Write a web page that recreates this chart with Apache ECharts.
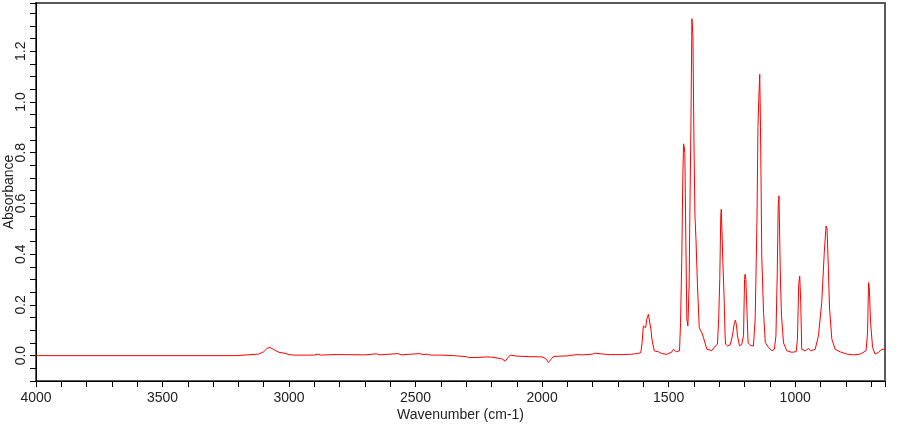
<!DOCTYPE html>
<html>
<head>
<meta charset="utf-8">
<script src="https://cdn.jsdelivr.net/npm/echarts@6/dist/echarts.min.js"></script>
<style>
html,body{margin:0;padding:0;background:#fff;}
#chart{width:900px;height:425px;}
</style>
</head>
<body>
<div id="chart"></div>
<script>
// Wavenumber (cm-1) and absorbance values
var wavenumbers = [4000,3210,3205,3120,3100,3085,3075,3060,3040,3020,3000,2980,2900,2885,2875,2830,2780,2700,2655,2640,2570,2555,2485,2470,2455,2440,2400,2350,2300,2290,2250,2220,2200,2160,2146,2135,2126,2100,2050,2000,1985,1975,1965,1955,1900,1865,1840,1800,1790,1770,1730,1700,1650,1620,1610,1605,1600,1595,1591,1586,1580,1576,1570,1566,1557,1540,1527,1507,1487,1481,1470,1457,1453,1448,1444,1441,1438,1436,1432,1428,1424,1419,1416,1412,1408,1404,1400,1396,1392,1386,1379,1369,1362,1349,1329,1316,1307,1302,1298,1294,1292,1289,1286,1281,1277,1275,1267,1257,1248,1240,1236,1232,1228,1220,1211,1204,1200,1198,1195,1190,1186,1180,1175,1165,1158,1151,1147,1144,1140,1137,1135,1132,1125,1118,1105,1092,1082,1076,1071,1067,1064,1060,1058,1054,1046,1033,1013,996,991,986,982,978,974,960,947,938,921,908,895,885,878,874,869,864,855,842,822,796,770,743,720,714,710,707,702,694,684,671,658,648,645];
var absorbance = [0,0,0.005,0.006,0.015,0.03,0.032,0.024,0.013,0.01,0.004,0.002,0.002,0.006,0.002,0.004,0.004,0.003,0.007,0.003,0.008,0.003,0.008,0.004,0.006,0.002,0.002,0.0,-0.004,-0.008,-0.007,-0.005,-0.006,-0.012,-0.022,-0.008,0.002,-0.002,-0.004,-0.005,-0.012,-0.027,-0.015,-0.003,-0.001,0.004,0.003,0.006,0.01,0.007,0.004,0.004,0.005,0.009,0.012,0.05,0.117,0.12,0.11,0.144,0.163,0.16,0.104,0.065,0.019,0.015,0.008,0.005,0.015,0.025,0.015,0.019,0.13,0.38,0.7,0.835,0.82,0.8,0.45,0.144,0.117,0.275,0.57,0.905,1.328,1.262,0.848,0.55,0.46,0.275,0.11,0.09,0.07,0.025,0.02,0.038,0.045,0.15,0.3,0.55,0.577,0.57,0.38,0.235,0.08,0.045,0.038,0.042,0.078,0.131,0.14,0.12,0.078,0.038,0.045,0.08,0.3,0.321,0.3,0.163,0.05,0.052,0.04,0.038,0.144,0.53,0.9,1.006,1.109,0.9,0.708,0.393,0.17,0.052,0.032,0.019,0.025,0.078,0.314,0.59,0.63,0.4,0.29,0.157,0.05,0.019,0.013,0.016,0.065,0.281,0.314,0.21,0.025,0.019,0.028,0.019,0.025,0.078,0.21,0.406,0.511,0.5,0.35,0.183,0.065,0.025,0.015,0.006,0.003,0.006,0.019,0.09,0.288,0.268,0.131,0.032,0.006,0.013,0.025,0.025,0.025];
var xStart = 4000;          // left end of the wavenumber axis
var xEnd = 645;             // right end of the wavenumber axis
var xLabelStep = 500;       // labelled wavenumbers
var yLabels = [0.0, 0.2, 0.4, 0.6, 0.8, 1.0, 1.2];

// offset axis (distance from 4000 cm-1) so ticks count from a multiple of the interval
var seriesData = wavenumbers.map(function (w, i) { return [xStart - w, absorbance[i]]; });

var chart = echarts.init(document.getElementById('chart'), null, {renderer: 'canvas'});
var font = 'Liberation Sans, Arial, sans-serif';
chart.setOption({
  animation: false,
  backgroundColor: '#ffffff',
  grid: {left: 36, right: 15, top: 3, bottom: 44, containLabel: false, outerBoundsMode: 'none', show: true, borderColor: '#5a5a5a', borderWidth: 2, backgroundColor: 'transparent'},
  xAxis: {
    type: 'value',
    min: 0,
    max: xStart - xEnd,
    interval: 100,
    name: 'Wavenumber (cm-1)',
    nameLocation: 'middle',
    nameGap: 27,
    nameMoveOverlap: false,
    nameTextStyle: {fontFamily: font, fontSize: 14, color: '#222'},
    axisLine: {show: true, onZero: false, lineStyle: {color: '#000', width: 1}},
    axisTick: {show: true, inside: false, length: 6, lineStyle: {color: '#000'}},
    axisLabel: {
      margin: 10, fontFamily: font, fontSize: 14, color: '#222', showMaxLabel: true, showMinLabel: true,
      formatter: function (v) {
        var w = Math.round(xStart - v);
        return (w % xLabelStep === 0) ? String(w) : '';
      }
    },
    splitLine: {show: false}
  },
  yAxis: {
    type: 'value',
    min: -0.1,
    max: 1.39,
    interval: 0.05,
    name: 'Absorbance',
    nameLocation: 'middle',
    nameGap: 20,
    nameMoveOverlap: false,
    nameTextStyle: {fontFamily: font, fontSize: 14, color: '#222'},
    axisLine: {show: true, onZero: false, lineStyle: {color: '#000', width: 1}},
    axisTick: {show: true, inside: false, length: 6, lineStyle: {color: '#000'}},
    axisLabel: {
      rotate: 90, margin: 8, fontFamily: font, fontSize: 14, color: '#222',
      formatter: function (v) {
        for (var i = 0; i < yLabels.length; i++) {
          if (Math.abs(v - yLabels[i]) < 1e-6) return yLabels[i].toFixed(1);
        }
        return '';
      }
    },
    splitLine: {show: false}
  },
  series: [{
    type: 'line',
    data: seriesData,
    showSymbol: false,
    symbol: 'none',
    smooth: false,
    lineStyle: {color: '#ff0000', width: 1},
    itemStyle: {color: '#ff0000'}
  }]
});
</script>
</body>
</html>
